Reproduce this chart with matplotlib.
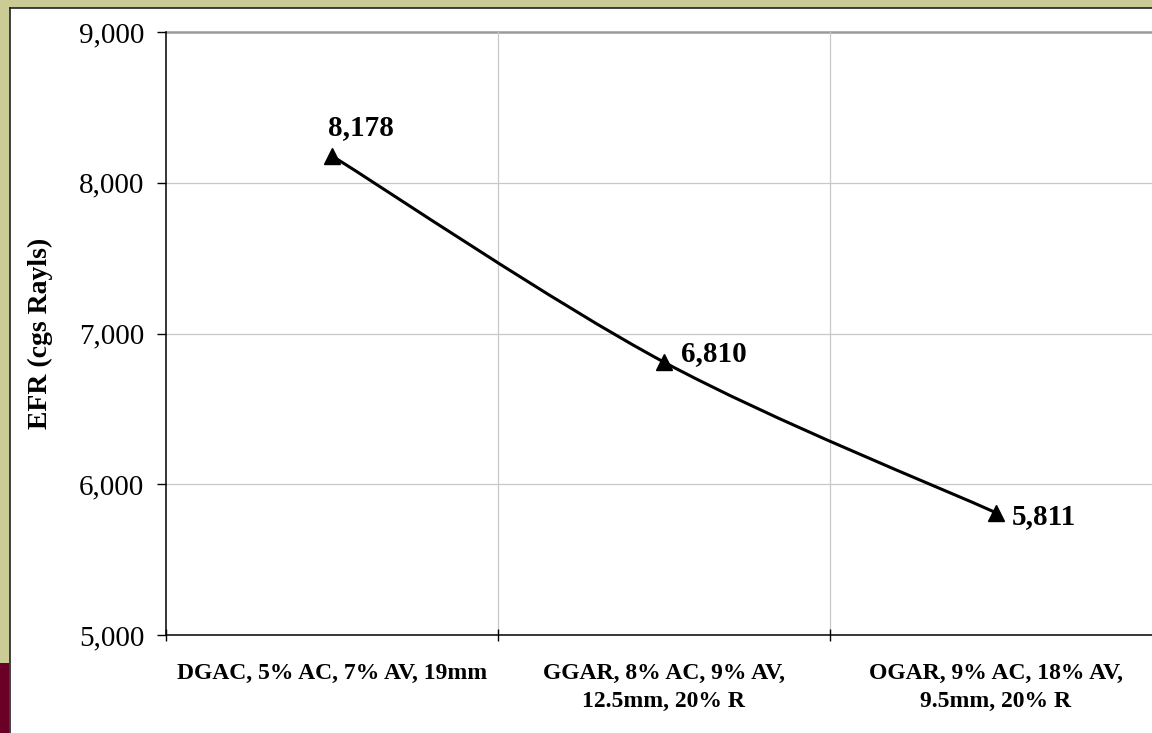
import matplotlib
matplotlib.use("Agg")
import matplotlib.pyplot as plt
from matplotlib.patches import Rectangle, PathPatch
from matplotlib.lines import Line2D
from matplotlib.path import Path
from matplotlib.ticker import FuncFormatter, FixedLocator

# Data
categories = [
    "DGAC, 5% AC, 7% AV, 19mm",
    "GGAR, 8% AC, 9% AV,\n12.5mm, 20% R",
    "OGAR, 9% AC, 18% AV,\n9.5mm, 20% R",
]
efr_values = [8178, 6810, 5811]
y_ticks = [5000, 6000, 7000, 8000, 9000]
y_label = "EFR (cgs Rayls)"

# label offsets (points) for each data label
label_offsets = [(-3, 15), (12, 1), (11.5, -8)]

plt.rcParams["font.family"] = ["Liberation Serif", "DejaVu Serif"]

W, H = 1152, 733
fig = plt.figure(figsize=(W / 100, H / 100), dpi=100)
fig.patch.set_facecolor("#CBCB96")

# white slide panel with dark edges and a maroon accent bar
fig.patches.append(Rectangle((10 / W, 0), 1, (H - 8) / H, transform=fig.transFigure,
                             facecolor="white", edgecolor="none", zorder=-3))
fig.patches.append(Rectangle((0, 0), 9 / W, (H - 663) / H, transform=fig.transFigure,
                             facecolor="#6B0026", edgecolor="none", zorder=-3))
fig.lines.append(Line2D([9.5 / W, 9.5 / W], [0, (H - 7.5) / H], transform=fig.transFigure,
                        color="#222222", lw=1.2, zorder=-2))
fig.lines.append(Line2D([9.5 / W, 1], [(H - 7.5) / H, (H - 7.5) / H], transform=fig.transFigure,
                        color="#222222", lw=1.2, zorder=-2))

ax_left, ax_right = 166 / W, 1162 / W
ax_bottom, ax_top = (H - 635) / H, (H - 32) / H
ax = fig.add_axes([ax_left, ax_bottom, ax_right - ax_left, ax_top - ax_bottom])
ax.set_facecolor("none")

x = list(range(len(categories)))
ax.set_xlim(-0.5, len(categories) - 0.5)
ax.set_ylim(y_ticks[0], y_ticks[-1])

# gridlines
ax.yaxis.set_major_locator(FixedLocator(y_ticks))
for yv in y_ticks[1:-1]:
    ax.axhline(yv, color="#C8C8C8", lw=0.9, zorder=1)
ax.axhline(y_ticks[-1], color="#9A9A9A", lw=1.8, zorder=1, clip_on=False)
bounds = [i + 0.5 for i in x[:-1]]
for xv in bounds:
    ax.axvline(xv, color="#C8C8C8", lw=0.9, zorder=1)

# smoothed series line (Catmull-Rom style Bezier through the data points)
pts = list(zip(x, efr_values))
verts = [pts[0]]
codes = [Path.MOVETO]
for i in range(len(pts) - 1):
    p0 = pts[i - 1] if i > 0 else pts[i]
    p1 = pts[i]
    p2 = pts[i + 1]
    p3 = pts[i + 2] if i + 2 < len(pts) else pts[i + 1]
    c1 = (p1[0] + (p2[0] - p0[0]) / 6, p1[1] + (p2[1] - p0[1]) / 6)
    c2 = (p2[0] - (p3[0] - p1[0]) / 6, p2[1] - (p3[1] - p1[1]) / 6)
    verts += [c1, c2, p2]
    codes += [Path.CURVE4] * 3
ax.add_patch(PathPatch(Path(verts, codes), facecolor="none", edgecolor="black",
                       lw=2.2, zorder=3, capstyle="butt"))
ax.plot(x, efr_values, linestyle="none", marker="^", ms=11, color="black", zorder=4)

for xi, v, off in zip(x, efr_values, label_offsets):
    ax.annotate(f"{v:,}", (xi, v), xytext=off, textcoords="offset points",
                ha="left", va="baseline", fontsize=21, fontweight="bold", zorder=5)

# axes styling
for s in ["top", "right"]:
    ax.spines[s].set_visible(False)
for s in ["left", "bottom"]:
    ax.spines[s].set_color("black")
    ax.spines[s].set_linewidth(1.1)

ax.yaxis.set_major_formatter(FuncFormatter(lambda v, p: f"{int(v):,}"))
ax.tick_params(axis="y", direction="out", length=6.5, width=1.0, pad=9, labelsize=21)

ax.xaxis.set_major_locator(FixedLocator([-0.5] + bounds + [len(categories) - 0.5]))
ax.tick_params(axis="x", which="major", direction="inout", length=8, width=1.0, labelbottom=False)
ax.set_xticks(x, minor=True)
ax.set_xticklabels(categories, minor=True, fontsize=17, fontweight="bold", linespacing=1.45)
ax.tick_params(axis="x", which="minor", length=0, pad=20)

ax.set_ylabel(y_label, fontsize=20, fontweight="bold")
ax.yaxis.set_label_coords((40 - 166) / 996, 0.5)
ax.yaxis.label.set_va("center")

fig.savefig("out.png", dpi=100, facecolor=fig.get_facecolor())
